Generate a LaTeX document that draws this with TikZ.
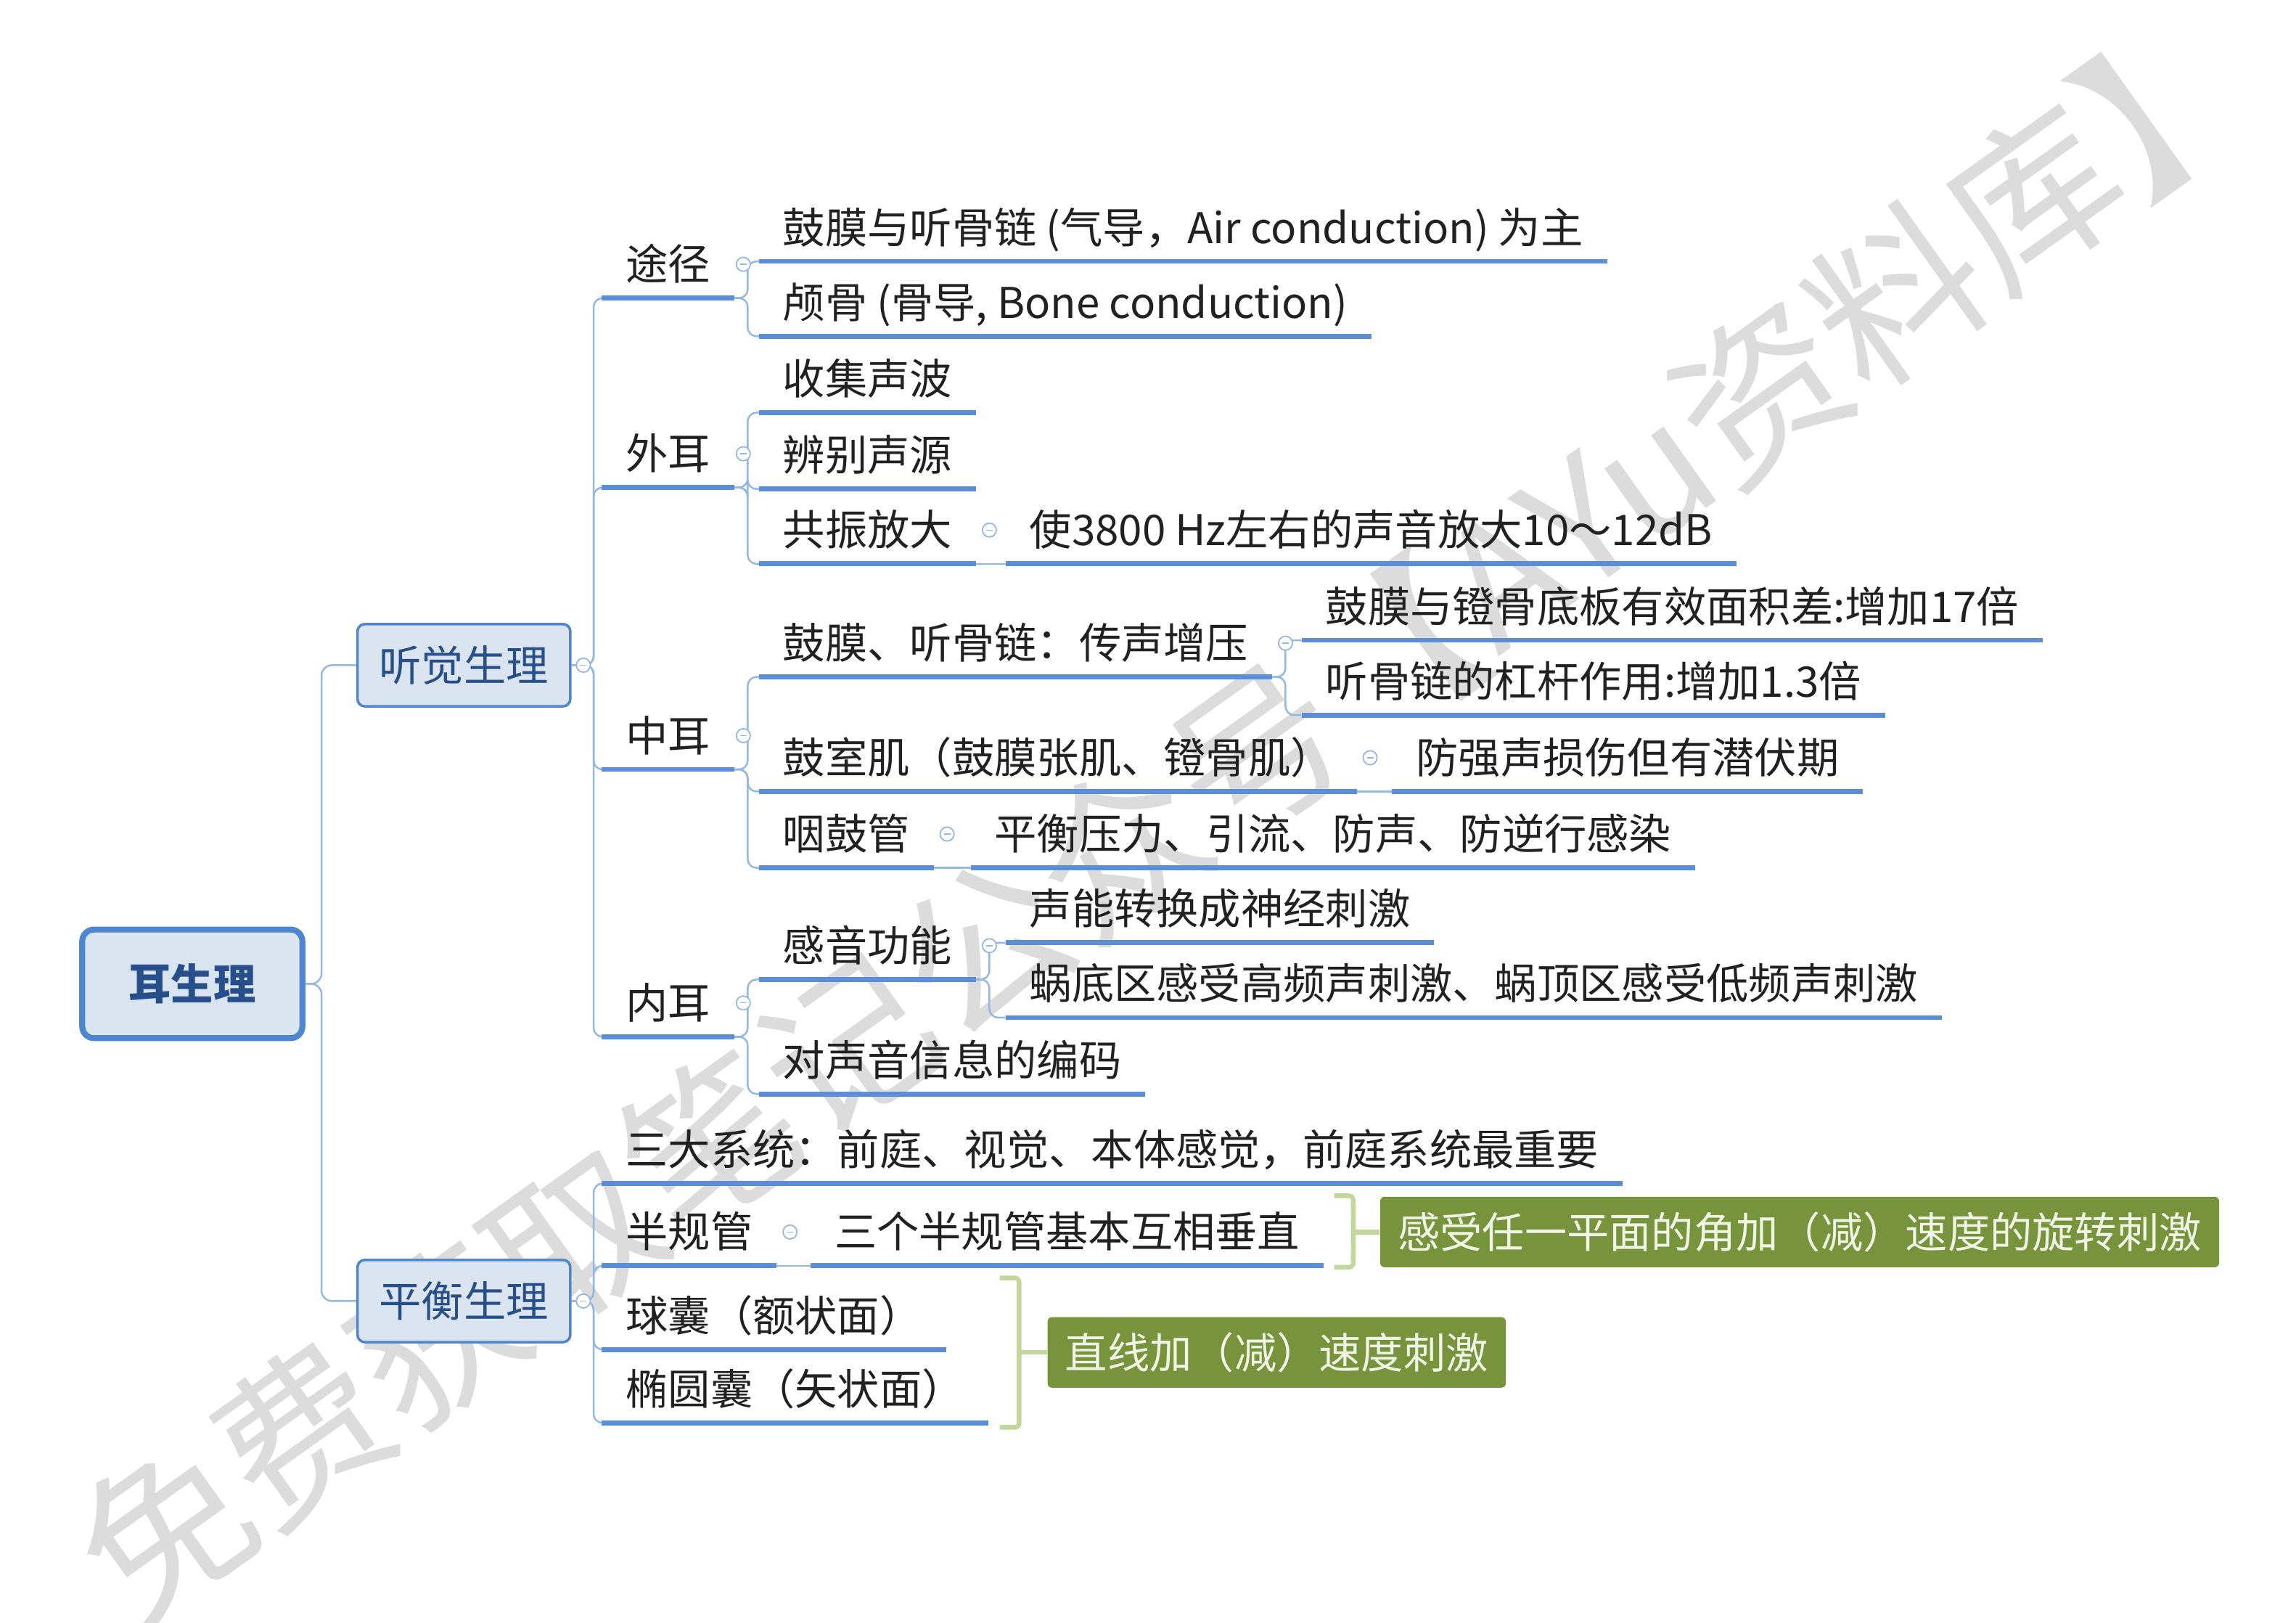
\documentclass[tikz,border=0pt]{standalone}
\usepackage{fontspec}
\setmainfont{Noto Sans CJK SC}
\usetikzlibrary{calc,positioning}

\definecolor{boxblue}{HTML}{4F86D1}
\definecolor{boxfill}{HTML}{DBE5F1}
\definecolor{boxtext}{HTML}{264F8C}
\definecolor{ulblue}{HTML}{5B8ED6}
\definecolor{linkblue}{HTML}{94B7E4}
\definecolor{grnfill}{HTML}{77933C}
\definecolor{grnline}{HTML}{C3D69B}
\definecolor{grntext}{HTML}{F0F5E6}
\definecolor{wmgray}{HTML}{DCDCDC}

\tikzset{
  rootbox/.style={shape=rectangle, draw=boxblue, line width=2.3pt, fill=boxfill, rounded corners=0.16cm,
    minimum width=3.0cm, minimum height=1.48cm, text=boxtext, font=\fontsize{16.4}{20}\selectfont\bfseries},
  mainbox/.style={shape=rectangle, draw=boxblue, line width=1pt, fill=boxfill, rounded corners=0.1cm,
    minimum width=2.9cm, minimum height=1.12cm, text=boxtext},
  topic/.style={anchor=south west, inner xsep=0.32cm, inner ysep=0pt, text height=0.62cm, text depth=0.24cm},
  uline/.style={draw=ulblue, line width=1.9pt},
  link/.style={draw=linkblue, line width=0.7pt},
  fold/.style={shape=circle, draw=linkblue, line width=0.5pt, fill=white, inner sep=0pt, minimum size=0.19cm,
    path picture={\draw[linkblue, line width=0.4pt] ([xshift=-0.045cm]path picture bounding box.center)
      -- ([xshift=0.045cm]path picture bounding box.center);}},
  grnbox/.style={shape=rectangle, fill=grnfill, rounded corners=0.06cm, text=grntext, inner xsep=0.24cm,
    minimum height=0.96cm, anchor=west},
  brk/.style={draw=grnline, line width=1.8pt, rounded corners=0.06cm},
  wmark/.style={rotate=35.5, text=wmgray, font=\fontsize{65}{65}\selectfont}
}

\begin{document}
\begin{tikzpicture}[x=0.02cm, y=-0.02cm, every node/.style={font=\fontsize{16.4}{20}\selectfont, text=black!87}]
  \useasboundingbox (0,0) rectangle (1564,1105);

  % watermark
  \node[wmark] (wm) at (795,555) {免费获取笔记公众号【AYu资料库】};

  % boxes
  \node[rootbox] (ear) at (131,670) {耳生理};
  \node[mainbox] (hear) at (316,453) {听觉生理};
  \node[mainbox] (bal) at (316,886) {平衡生理};

  % hearing branch
  \node[topic] (tj) at (410,203) {途径};
  \node[topic] (we) at (410,332) {外耳};
  \node[topic] (zh) at (410,524) {中耳};
  \node[topic] (ne) at (410,706) {内耳};

  \node[topic] (air)  at (517,178) {鼓膜与听骨链 (气导，Air conduction) 为主};
  \node[topic] (bone) at (517,229) {颅骨 (骨导, Bone conduction)};
  \node[topic] (sj) at (517,281) {收集声波};
  \node[topic] (bb) at (517,333) {辨别声源};
  \node[topic] (gz) at (517,384) {共振放大};
  \node[topic] (fd) at ($(gz.south east)+(20,0)$) {使3800 Hz左右的声音放大10～12dB};
  \node[topic] (cy) at (517,461) {鼓膜、听骨链：传声增压};
  \node[topic] (mj) at ($(cy.south east)+(20,-25)$) {鼓膜与镫骨底板有效面积差:增加17倍};
  \node[topic] (gg) at ($(cy.south east)+(20,26)$) {听骨链的杠杆作用:增加1.3倍};
  \node[topic] (gs) at (517,539) {鼓室肌（鼓膜张肌、镫骨肌）};
  \node[topic] (fq) at ($(gs.south east)+(24,0)$) {防强声损伤但有潜伏期};
  \node[topic] (yg) at (517,591) {咽鼓管};
  \node[topic] (ph) at ($(yg.south east)+(25,0)$) {平衡压力、引流、防声、防逆行感染};
  \node[topic] (gy) at (517,667) {感音功能};
  \node[topic] (sn) at ($(gy.south east)+(20,-25)$) {声能转换成神经刺激};
  \node[topic] (wd) at ($(gy.south east)+(20,26)$) {蜗底区感受高频声刺激、蜗顶区感受低频声刺激};
  \node[topic] (bm) at (517,745) {对声音信息的编码};

  % balance branch
  \node[topic] (sd) at (410,806) {三大系统：前庭、视觉、本体感觉，前庭系统最重要};
  \node[topic] (bg) at (410,862) {半规管};
  \node[topic] (bx) at ($(bg.south east)+(23,0)$) {三个半规管基本互相垂直};
  \node[topic] (qn) at (410,919) {球囊（额状面）};
  \node[topic] (ty) at (410,969) {椭圆囊（矢状面）};

  % connectors
  \foreach \n in {hear,bal}
    \draw[link, rounded corners=0.14cm] (ear.east) -- ++(11,0) |- (\n.west);
  \foreach \n in {tj,we,zh,ne}
    \draw[link, rounded corners=0.12cm] (hear.east) -- ++(15,0) |- (\n.south west);
  \foreach \n in {sd,bg,qn,ty}
    \draw[link, rounded corners=0.12cm] (bal.east) -- ++(15,0) |- (\n.south west);
  \foreach \p/\c in {tj/air,tj/bone,we/sj,we/bb,we/gz,zh/cy,zh/gs,zh/yg,ne/gy,ne/bm,cy/mj,cy/gg,gy/sn,gy/wd}
    \draw[link, rounded corners=0.12cm] (\p.south east) -- ++(9,0) |- (\c.south west);
  \foreach \p/\c in {gz/fd,gs/fq,yg/ph,bg/bx}
    \draw[link] (\p.south east) -- (\c.south west);

  % underlines
  \foreach \n in {tj,we,zh,ne,air,bone,sj,bb,gz,fd,cy,mj,gg,gs,fq,yg,ph,gy,sn,wd,bm,sd,bg,bx,qn,ty}
    \draw[uline] (\n.south west) -- (\n.south east);

  % fold markers
  \foreach \n in {hear,bal}
    \node[fold] (f-\n) at ([xshift=0.16cm]\n.east) {};
  \foreach \n in {tj,we,zh,ne}
    \node[fold] (f-\n) at ($(\n.south east)+(6,-23)$) {};
  \foreach \n in {gz,cy,gs,yg,gy,bg}
    \node[fold] (f-\n) at ($(\n.south east)+(9,-23)$) {};

  % summaries
  \node[grnbox] (g1) at ($(bx.south east)+(38,-23)$) {感受任一平面的角加（减）速度的旋转刺激};
  \draw[brk] ([shift={(7,-4)}]bx.north east) -| ([shift={(20,1)}]bx.south east) -- ++(-13,0);
  \draw[brk] (g1.west) -- ++(-18,0);
  \node[grnbox] (g2) at ($(ty.south east |- qn.south)+(40,2)$) {直线加（减）速度刺激};
  \draw[brk] ($(ty.east |- qn.north)+(8,-5)$) -| ([shift={(21,3)}]ty.south east) -- ++(-13,0);
  \draw[brk] (g2.west) -- ++(-19,0);
\end{tikzpicture}
\end{document}
